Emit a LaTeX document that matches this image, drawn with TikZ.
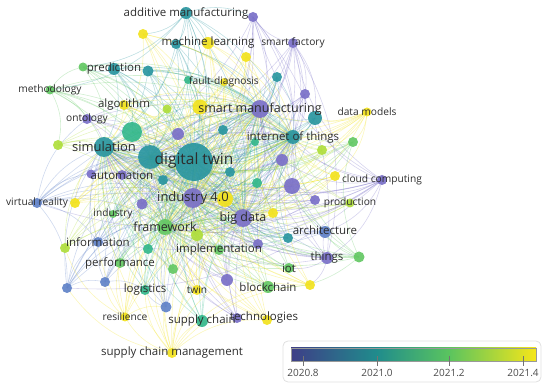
\documentclass[tikz,border=0pt]{standalone}
\usepackage{fontspec}
\setmainfont{Open Sans}
\usetikzlibrary{backgrounds,calc}

% overlay colours (2020.8 ... 2021.4)
\definecolor{cP}{RGB}{122,112,200}
\definecolor{cB}{RGB}{96,130,200}
\definecolor{cT}{RGB}{42,150,160}
\definecolor{cC}{RGB}{52,184,140}
\definecolor{cG}{RGB}{100,200,100}
\definecolor{cL}{RGB}{175,222,60}
\definecolor{cY}{RGB}{242,226,30}
\definecolor{ink}{RGB}{45,45,45}
\definecolor{barA}{RGB}{62,62,135}
\definecolor{barB}{RGB}{32,140,140}
\definecolor{barC}{RGB}{90,196,95}
\definecolor{barD}{RGB}{246,230,25}
\pgfdeclarehorizontalshading{vosbar}{100bp}{color(0bp)=(barA); color(25bp)=(barA); color(42.5bp)=(barB); color(57.2bp)=(barC); color(75bp)=(barD); color(100bp)=(barD)}

\begin{document}
\begin{tikzpicture}[
    x=1pt, y=-1pt,
    dot/.style={circle, inner sep=0pt, draw=none, fill opacity=0.92},
    edge/.style={line width=0.6pt, opacity=0.3},
    lbl/.style={text=ink, inner sep=0pt, font=\fontsize{10.2}{12}\selectfont},
    lblm/.style={lbl, font=\fontsize{11.5}{14}\selectfont},
    lblb/.style={lbl, font=\fontsize{15.5}{18}\selectfont},
    legbox/.style={draw=black!12, rounded corners=5pt, fill=white, line width=0.8pt},
    cbar/.style={draw=black!40, line width=0.4pt, shading=vosbar, inner sep=0pt},
    tick/.style={draw=black!55, line width=0.6pt},
    ticklbl/.style={text=black!70, font=\fontsize{10}{12}\selectfont}
]
    \useasboundingbox (0,0) rectangle (550,385);

    % hubs
    \node[dot, fill=cT, minimum size=38pt] (dt) at (194,162) {};
    \node[dot, fill=cP, minimum size=20pt] (i40) at (193,198) {};
    \node[dot, fill=cP, minimum size=18pt] (smm) at (260,109) {};
    \node[dot, fill=cT, minimum size=20pt] (sim) at (104,147) {};
    \node[dot, fill=cP, minimum size=18pt] (bd) at (243,218) {};
    \node[dot, fill=cG, minimum size=16pt] (fw) at (165,227) {};
    \node[dot, fill=cT, minimum size=24pt] (u21) at (150,157) {};
    \node[dot, fill=cT, minimum size=14pt] (iotx) at (293,137) {};

    % labelled nodes
    \node[dot, fill=cT, minimum size=12pt] (am) at (186,13) {};
    \node[dot, fill=cY, minimum size=12pt] (ml) at (208,43) {};
    \node[dot, fill=cP, minimum size=10pt] (sf) at (293,43) {};
    \node[dot, fill=cT, minimum size=12pt] (pred) at (114,69) {};
    \node[dot, fill=cY, minimum size=8pt] (fd) at (224,82) {};
    \node[dot, fill=cG, minimum size=9pt] (meth) at (50,90) {};
    \node[dot, fill=cY, minimum size=10pt] (alg) at (124,105) {};
    \node[dot, fill=cP, minimum size=10pt] (onto) at (87,119) {};
    \node[dot, fill=cP, minimum size=10pt] (auto) at (122,175) {};
    \node[dot, fill=cY, minimum size=9pt] (dm) at (367,112) {};
    \node[dot, fill=cP, minimum size=10pt] (cc) at (382,180) {};
    \node[dot, fill=cB, minimum size=10pt] (vr) at (37,203) {};
    \node[dot, fill=cG, minimum size=8pt] (ind) at (113,214) {};
    \node[dot, fill=cB, minimum size=10pt] (info) at (98,242) {};
    \node[dot, fill=cG, minimum size=10pt] (impl) at (219,250) {};
    \node[dot, fill=cG, minimum size=10pt] (perf) at (120,263) {};
    \node[dot, fill=cC, minimum size=10pt] (log) at (145,290) {};
    \node[dot, fill=cY, minimum size=10pt] (twin) at (197,290) {};
    \node[dot, fill=cG, minimum size=12pt] (bc) at (268,287) {};
    \node[dot, fill=cY, minimum size=9pt] (res) at (125,317) {};
    \node[dot, fill=cC, minimum size=12pt] (sc) at (202,321) {};
    \node[dot, fill=cY, minimum size=10pt] (tech) at (267,320) {};
    \node[dot, fill=cY, minimum size=10pt] (scm) at (172,353) {};
    \node[dot, fill=cL, minimum size=9pt] (prod) at (350,203) {};
    \node[dot, fill=cB, minimum size=12pt] (arch) at (325,232) {};
    \node[dot, fill=cP, minimum size=12pt] (things) at (327,258) {};
    \node[dot, fill=cG, minimum size=10pt] (iot) at (289,268) {};

    % unlabelled nodes
    \node[dot, fill=cP, minimum size=10pt] (u1) at (253,17) {};
    \node[dot, fill=cY, minimum size=10pt] (u2) at (143,34) {};
    \node[dot, fill=cT, minimum size=10pt] (u3) at (176,44) {};
    \node[dot, fill=cY, minimum size=10pt] (u4) at (246,57) {};
    \node[dot, fill=cG, minimum size=9pt] (u5) at (83,67) {};
    \node[dot, fill=cT, minimum size=11pt] (u6) at (148,71) {};
    \node[dot, fill=cC, minimum size=8pt] (u7) at (188,80) {};
    \node[dot, fill=cT, minimum size=10pt] (u8) at (277,77) {};
    \node[dot, fill=cP, minimum size=10pt] (u9) at (305,94) {};
    \node[dot, fill=cL, minimum size=9pt] (u10) at (167,109) {};
    \node[dot, fill=cY, minimum size=15pt] (u11) at (200,107) {};
    \node[dot, fill=cT, minimum size=14pt] (u12) at (315,118) {};
    \node[dot, fill=cC, minimum size=20pt] (u13) at (132,132) {};
    \node[dot, fill=cP, minimum size=12pt] (u14) at (178,134) {};
    \node[dot, fill=cT, minimum size=10pt] (u15) at (223,130) {};
    \node[dot, fill=cC, minimum size=8pt] (u16) at (255,142) {};
    \node[dot, fill=cG, minimum size=10pt] (u17) at (353,142) {};
    \node[dot, fill=cL, minimum size=10pt] (u18) at (322,150) {};
    \node[dot, fill=cP, minimum size=12pt] (u19) at (282,160) {};
    \node[dot, fill=cL, minimum size=10pt] (u20) at (58,145) {};
    \node[dot, fill=cT, minimum size=10pt] (u22) at (230,172) {};
    \node[dot, fill=cP, minimum size=9pt] (u23) at (91,174) {};
    \node[dot, fill=cT, minimum size=10pt] (u24) at (163,180) {};
    \node[dot, fill=cY, minimum size=10pt] (u25) at (335,176) {};
    \node[dot, fill=cP, minimum size=16pt] (u26) at (292,186) {};
    \node[dot, fill=cC, minimum size=10pt] (u27) at (257,183) {};
    \node[dot, fill=cP, minimum size=10pt] (u28) at (315,200) {};
    \node[dot, fill=cY, minimum size=10pt] (u29) at (75,203) {};
    \node[dot, fill=cP, minimum size=11pt] (u30) at (142,204) {};
    \node[dot, fill=cY, minimum size=16pt] (u31) at (225,199) {};
    \node[dot, fill=cY, minimum size=10pt] (u32) at (273,213) {};
    \node[dot, fill=cL, minimum size=12pt] (u33) at (197,235) {};
    \node[dot, fill=cP, minimum size=10pt] (u34) at (258,244) {};
    \node[dot, fill=cT, minimum size=10pt] (u35) at (288,238) {};
    \node[dot, fill=cL, minimum size=10pt] (u36) at (65,248) {};
    \node[dot, fill=cC, minimum size=10pt] (u37) at (148,249) {};
    \node[dot, fill=cG, minimum size=11pt] (u38) at (359,257) {};
    \node[dot, fill=cG, minimum size=10pt] (u39) at (173,269) {};
    \node[dot, fill=cP, minimum size=12pt] (u40) at (227,280) {};
    \node[dot, fill=cB, minimum size=10pt] (u41) at (67,288) {};
    \node[dot, fill=cB, minimum size=10pt] (u42) at (105,282) {};
    \node[dot, fill=cY, minimum size=10pt] (u43) at (310,285) {};
    \node[dot, fill=cB, minimum size=11pt] (u44) at (166,307) {};
    \node[dot, fill=cP, minimum size=10pt] (u45) at (237,318) {};

    % links
    \begin{scope}[on background layer]
        \foreach \c/\grp in {
            cP/{u1,sf,u9,onto,auto,u14,u19,u23,u26,u28,u30,u34,u40,u45,cc,things},
            cB/{vr,info,arch,u41,u42,u44},
            cT/{am,u3,pred,u6,u8,u12,u15,u22,u24,u35},
            cC/{u7,u13,u16,u27,u37,log,sc},
            cG/{meth,u5,u17,ind,impl,perf,bc,iot,u38,u39},
            cL/{u10,u18,u20,u33,u36,prod},
            cY/{u2,ml,u4,fd,alg,u11,dm,u25,u29,u31,u32,u43,twin,res,tech,scm}} {
            \foreach \a in \grp {
                \foreach \b in {dt,i40,smm,sim,bd,fw,u21,iotx}
                    \draw[edge, draw=\c] (\a.center) to[bend left=22] (\b.center);
            }
        }
        \foreach \a/\b/\c in {dt/i40/cT, dt/smm/cT, dt/sim/cT, dt/bd/cT, dt/fw/cT,
            i40/smm/cP, i40/sim/cP, i40/bd/cP, i40/fw/cP, smm/sim/cP, smm/bd/cP,
            smm/fw/cP, sim/bd/cT, sim/fw/cT, bd/fw/cP, u21/dt/cT, u21/i40/cT,
            u21/smm/cT, u21/sim/cT, u21/bd/cT, u21/fw/cT, iotx/dt/cT, iotx/i40/cT,
            iotx/smm/cT, iotx/sim/cT, iotx/bd/cT, iotx/fw/cT, iotx/u21/cT,
            cc/arch/cP, cc/things/cP, cc/u26/cP, cc/u12/cP, cc/u19/cP,
            cc/vr/cP, cc/sf/cP, cc/u1/cP, cc/info/cP, cc/u41/cP, sf/things/cP,
            dm/u12/cY, dm/u17/cY, dm/u25/cY, dm/u18/cY, dm/u13/cY, dm/alg/cY,
            sf/u1/cP, sf/u9/cP, sf/u12/cP, sf/u19/cP, am/ml/cT, am/u1/cT, am/u2/cT, am/u3/cT,
            am/meth/cT, am/u5/cT, u1/u26/cP, u1/things/cP,
            scm/res/cY, scm/log/cY, scm/sc/cY, scm/tech/cY, scm/twin/cY, scm/bc/cY,
            scm/u44/cY, scm/u40/cY, scm/u43/cY, scm/u41/cY, vr/u29/cB, vr/info/cB,
            vr/u23/cB, vr/u41/cB, vr/onto/cB, vr/things/cB,
            things/arch/cP, things/iot/cP, things/u38/cP, things/u43/cP, u38/arch/cG,
            u38/u17/cG, u38/bc/cG, u38/u26/cG,
            meth/u5/cG, meth/u20/cG, meth/onto/cG, pred/u5/cT, pred/u13/cT,
            u41/u42/cB, u41/info/cB, u42/log/cB, u44/log/cB, res/u42/cY, res/u44/cY,
            res/u36/cY, res/perf/cY}
            \draw[edge, draw=\c] (\a.center) to[bend left=22] (\b.center);
    \end{scope}

    % labels
    \node[lblm] (am-l) at (am) {additive manufacturing};
    \node[lblm] (ml-l) at (ml) {machine learning};
    \node[lbl] (sf-l) at (sf) {smart factory};
    \node[lblm] (pred-l) at (pred) {prediction};
    \node[lbl] (fd-l) at (fd) {fault-diagnosis};
    \node[lbl] (meth-l) at (meth) {methodology};
    \node[lblm] (alg-l) at (alg) {algorithm};
    \node[lbl] (onto-l) at (onto) {ontology};
    \node[lblm, font=\fontsize{13}{15}\selectfont] (sim-l) at (sim) {simulation};
    \node[lblb] (dt-l) at (194,160) {digital twin};
    \node[lblm] (auto-l) at (auto) {automation};
    \node[lblm, font=\fontsize{12.5}{15}\selectfont] (smm-l) at (smm) {smart manufacturing};
    \node[lblm] (iotx-l) at (iotx) {internet of things};
    \node[lbl] (dm-l) at (dm) {data models};
    \node[lbl] (cc-l) at (cc) {cloud computing};
    \node[lbl] (vr-l) at (vr) {virtual reality};
    \node[lblm, font=\fontsize{13}{15}\selectfont] (i40-l) at (i40) {industry 4.0};
    \node[lblm, font=\fontsize{12.5}{15}\selectfont] (bd-l) at (bd) {big data};
    \node[lbl] (ind-l) at (ind) {industry};
    \node[lblm, font=\fontsize{12.5}{15}\selectfont] (fw-l) at (fw) {framework};
    \node[lblm] (info-l) at (info) {information};
    \node[lblm] (impl-l) at (impl) {implementation};
    \node[lblm] (perf-l) at (perf) {performance};
    \node[lblm] (log-l) at (log) {logistics};
    \node[lbl] (twin-l) at (twin) {twin};
    \node[lblm] (bc-l) at (bc) {blockchain};
    \node[lbl] (res-l) at (res) {resilience};
    \node[lblm] (sc-l) at (sc) {supply chain};
    \node[lblm] (tech-l) at (264,318) {technologies};
    \node[lblm] (scm-l) at (scm) {supply chain management};
    \node[lbl] (prod-l) at (prod) {production};
    \node[lblm] (arch-l) at (325,230) {architecture};
    \node[lblm] (things-l) at (things) {things};
    \node[lblm] (iot-l) at (iot) {iot};

    % legend
    \node[legbox, minimum width=258pt, minimum height=41pt] (legend) at (412,361.5) {};
    \node[cbar, minimum width=245pt, minimum height=13pt] (bar) at (413.5,354.5) {};
    \foreach \x/\t [count=\i] in {303/2020.8, 377/2021.0, 449/2021.2, 523/2021.4} {
        \draw[tick] (\x,356) -- (\x,366);
        \node[ticklbl] (tk\i) at (\x,373) {\t};
    }
\end{tikzpicture}
\end{document}
